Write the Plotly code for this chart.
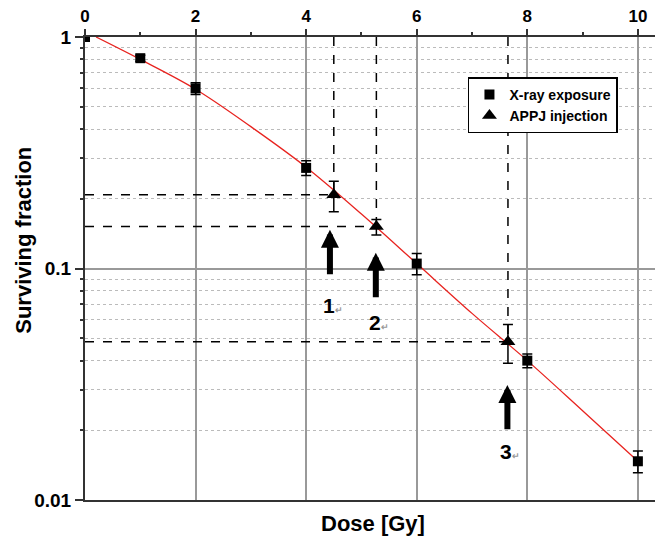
import math
import plotly.graph_objects as go

# X-ray exposure data
xray_dose = [0, 1, 2, 4, 6, 8, 10]
xray_sf = [1.0, 0.81, 0.60, 0.272, 0.105, 0.040, 0.0147]
xray_err = [0.0, 0.025, 0.035, 0.02, 0.011, 0.0027, 0.0016]

# APPJ injection data
appj_dose = [4.5, 5.27, 7.65]
appj_sf = [0.208, 0.152, 0.0483]
appj_err_plus = [0.03, 0.011, 0.009]
appj_err_minus = [0.032, 0.0125, 0.0093]

# Fitted curve
fit_dose = [0.2, 1, 2, 3, 4, 5, 6, 7, 8, 9, 10]
fit_sf = [1.0, 0.80, 0.595, 0.41, 0.274, 0.172, 0.105, 0.064, 0.040, 0.0243, 0.0147]

# Arrows (tip, tail) and labels
arrow_x = [4.43, 5.26, 7.64]
arrow_tip = [0.147, 0.117, 0.0314]
arrow_tail = [0.093, 0.074, 0.0199]
label_text = ["1", "2", "3"]
label_y = [0.0695, 0.0587, 0.0162]

x_ticks = [0, 2, 4, 6, 8, 10]
x_minor = [1, 3, 5, 7, 9]
y_ticks = [0.01, 0.1, 1]
y_ticklabels = ["0.01", "0.1", "1"]
y_minor = [m * d for d in (0.01, 0.1) for m in range(2, 10)]

FONT = "Liberation Sans, Arial, sans-serif"

fig = go.Figure()

# dashed guide lines
for xd, yd in zip(appj_dose, appj_sf):
    fig.add_trace(go.Scatter(x=[0, xd], y=[yd, yd], mode="lines",
                             line=dict(color="black", width=1.5, dash="dash"),
                             showlegend=False, hoverinfo="skip"))
    fig.add_trace(go.Scatter(x=[xd, xd], y=[1.0, yd], mode="lines",
                             line=dict(color="black", width=1.5, dash="dash"),
                             showlegend=False, hoverinfo="skip"))

fig.add_trace(go.Scatter(x=fit_dose, y=fit_sf, mode="lines", line_shape="spline",
                         line=dict(color="#e8231f", width=1.3),
                         showlegend=False, hoverinfo="skip"))

fig.add_trace(go.Scatter(x=xray_dose, y=xray_sf, mode="markers", name="X-ray exposure",
                         marker=dict(symbol="square", size=10, color="black"),
                         error_y=dict(type="data", array=xray_err, color="black",
                                      thickness=1.5, width=5)))

fig.add_trace(go.Scatter(x=appj_dose, y=appj_sf, mode="markers", name="APPJ injection",
                         marker=dict(symbol="triangle-up", size=13, color="black"),
                         error_y=dict(type="data", array=appj_err_plus,
                                      arrayminus=appj_err_minus, color="black",
                                      thickness=1.5, width=5)))

for xa, yt, yb in zip(arrow_x, arrow_tip, arrow_tail):
    fig.add_annotation(x=xa, y=math.log10(yt), ax=xa, ay=math.log10(yb),
                       xref="x", yref="y", axref="x", ayref="y",
                       text="", showarrow=True, arrowhead=2, arrowwidth=6,
                       arrowsize=0.6, arrowcolor="black")

for xa, yl, t in zip(arrow_x, label_y, label_text):
    fig.add_annotation(x=xa, y=math.log10(yl), xref="x", yref="y",
                       text=t + "<span style='font-size:9px;color:#999'>↵</span>",
                       showarrow=False, xshift=3,
                       font=dict(family=FONT, size=21, color="black", weight="bold"))

fig.update_layout(
    width=655, height=537,
    margin=dict(l=77, r=3, t=29, b=45, autoexpand=False),
    paper_bgcolor="white", plot_bgcolor="white",
    font=dict(family=FONT, color="black"),
    legend=dict(x=0.666, y=0.913, xanchor="left", yanchor="top",
                bgcolor="white", bordercolor="black", borderwidth=1.5,
                font=dict(family=FONT, size=14, color="black", weight="bold"),
                itemwidth=30, tracegroupgap=0),
    xaxis=dict(range=[0, 10.4], side="top", tickvals=x_ticks,
               ticks="outside", ticklen=6, tickwidth=1.5, tickcolor="#333",
               tickfont=dict(family=FONT, size=17, color="black", weight="bold"),
               showgrid=True, gridcolor="#999", gridwidth=1.5,
               showline=True, linecolor="#333", linewidth=2, mirror=True,
               zeroline=False,
               minor=dict(tickvals=x_minor, ticks="outside", ticklen=3,
                          tickcolor="#333", tickwidth=1.5, showgrid=False),
               title=None),
    yaxis=dict(type="log", range=[-2, 0], tickvals=y_ticks, ticktext=y_ticklabels,
               ticks="outside", ticklen=8, tickwidth=1.5, tickcolor="#333",
               tickfont=dict(family=FONT, size=19, color="black", weight="bold"),
               showgrid=True, gridcolor="#999", gridwidth=1.5,
               showline=True, linecolor="#333", linewidth=2, mirror=True,
               zeroline=False,
               minor=dict(tickvals=y_minor, ticks="outside", ticklen=3,
                          tickcolor="#333", tickwidth=1.5, showgrid=True,
                          gridcolor="#bbb", griddash="dot", gridwidth=1),
               title=None),
)

fig.add_annotation(x=-0.106, y=0.56, xref="paper", yref="paper",
                   xanchor="center", yanchor="middle", textangle=-90,
                   text="Surviving fraction", showarrow=False,
                   font=dict(family=FONT, size=22, color="black", weight="bold"))

fig.add_annotation(x=0.5, y=-0.05, xref="paper", yref="paper", yanchor="middle",
                   text="Dose [Gy]", showarrow=False,
                   font=dict(family=FONT, size=22, color="black", weight="bold"))

fig.write_html("out.html")
